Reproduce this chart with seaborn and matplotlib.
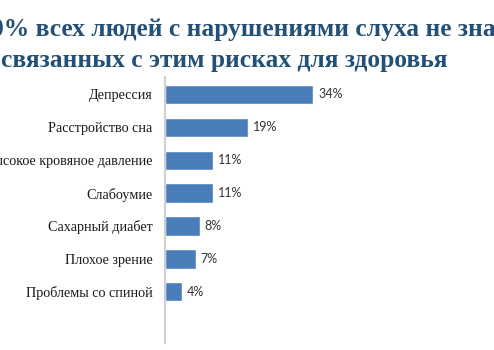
import matplotlib
matplotlib.use("Agg")
import matplotlib.pyplot as plt
import seaborn as sns
import pandas as pd

categories = [
    "Депрессия",
    "Расстройство сна",
    "Высокое кровяное давление",
    "Слабоумие",
    "Сахарный диабет",
    "Плохое зрение",
    "Проблемы со спиной",
]
values = [34, 19, 11, 11, 8, 7, 4]
title_lines = [
    "0% всех людей с нарушениями слуха не знают о",
    "связанных с этим рисках для здоровья",
]

sns.set_theme(style="white")

df = pd.DataFrame({"risk": categories, "pct": values})

fig = plt.figure(figsize=(4.94, 3.5), dpi=100)
W, H = 494, 350
ax = fig.add_axes([165 / W, 1 - 343 / H, (W - 165) / W, (343 - 77) / H])

sns.barplot(data=df, x="pct", y="risk", orient="h", color="#4a7ebb",
            saturation=1, width=0.58, ax=ax)

ax.set_xlim(0, (W - 165) / 4.36)
ax.set_ylim(7.55, -0.52)

for sp in ["top", "right", "bottom"]:
    ax.spines[sp].set_visible(False)
ax.spines["left"].set_color("#d0d0d0")
ax.spines["left"].set_linewidth(1.5)

ax.set_xticks([])
ax.set_xlabel("")
ax.set_ylabel("")
ax.tick_params(axis="y", length=0, pad=9)
for lbl in ax.get_yticklabels():
    lbl.set_fontfamily("Liberation Serif")
    lbl.set_fontsize(10.2)
    lbl.set_color("#1a1a1a")

for i, v in enumerate(values):
    ax.text(v + 1.1, i, f"{v}%", va="center", ha="left",
            fontfamily="Lato", fontsize=9, color="#333333")

fig.text(-9 / W, 1 - 36 / H, title_lines[0], ha="left", va="baseline",
         fontfamily="Liberation Serif", fontweight="bold", fontsize=18.4,
         color="#22507a")
fig.text(1 / W, 1 - 67 / H, title_lines[1], ha="left", va="baseline",
         fontfamily="Liberation Serif", fontweight="bold", fontsize=18.4,
         color="#22507a")

fig.savefig("out.png", dpi=100)
